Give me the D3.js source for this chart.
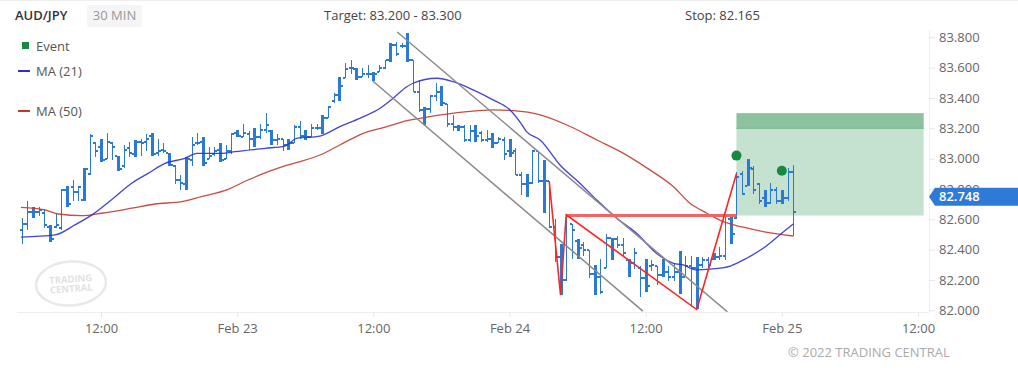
<!DOCTYPE html>
<html>
<head>
<meta charset="utf-8">
<script src="https://cdn.jsdelivr.net/npm/d3@7"></script>
<style>
  body { margin: 0; background: #fff; font-family: "Open Sans", sans-serif; }
</style>
</head>
<body>
<div id="root"></div>
<script>
// 30 min bars, index 0 = Feb 22 00:00
const firstBar = 10;
const opens = [
  82.53, 82.57, 82.65, 82.65, 82.64, 82.55, 82.55, 82.54, 82.79, 82.81,
  82.78, 82.73, 82.90, 83.10, 83.08, 83.00, 83.10, 83.02, 82.95, 83.07,
  83.03, 83.11, 83.11, 83.15, 83.04, 83.06, 83.04, 82.95, 82.86, 82.83,
  82.99, 83.10, 83.11, 83.00, 83.03, 83.06, 83.00, 83.05, 83.17, 83.14,
  83.16, 83.13, 83.14, 83.19, 83.18, 83.12, 83.13, 83.09, 83.10, 83.21,
  83.15, 83.14, 83.20, 83.20, 83.27, 83.38, 83.42, 83.53, 83.60, 83.59,
  83.54, 83.56, 83.56, 83.57, 83.60, 83.65, 83.75, 83.74, 83.74, 83.65,
  83.44, 83.32, 83.33, 83.41, 83.44, 83.36, 83.23, 83.21, 83.21, 83.12,
  83.18, 83.17, 83.12, 83.13, 83.10, 83.12, 83.05, 83.05, 82.89, 82.83,
  82.84, 83.05, 82.85, 82.85, 82.55, 82.35, 82.20, 82.57, 82.46, 82.43,
  82.40, 82.24, 82.22, 82.28, 82.48, 82.47, 82.43, 82.33, 82.31, 82.28,
  82.21, 82.29, 82.29, 82.23, 82.25, 82.22, 82.25, 82.22, 82.29, 82.28,
  82.30, 82.33, 82.34, 82.35, 82.36, 82.60, 82.61, 82.90, 82.82, 82.93,
  82.83, 82.74, 82.71, 82.79, 82.72, 82.74, 82.91
];
const highs = [
  82.61, 82.72, 82.68, 82.68, 82.67, 82.56, 82.64, 82.80, 82.82, 82.86,
  82.82, 82.94, 83.16, 83.11, 83.13, 83.17, 83.11, 83.02, 83.09, 83.11,
  83.12, 83.13, 83.16, 83.17, 83.13, 83.10, 83.04, 82.96, 82.89, 83.01,
  83.14, 83.17, 83.14, 83.08, 83.08, 83.10, 83.09, 83.17, 83.19, 83.23,
  83.18, 83.20, 83.23, 83.30, 83.19, 83.16, 83.13, 83.13, 83.22, 83.25,
  83.19, 83.23, 83.23, 83.29, 83.35, 83.43, 83.54, 83.63, 83.65, 83.60,
  83.60, 83.62, 83.57, 83.62, 83.65, 83.76, 83.77, 83.76, 83.83, 83.65,
  83.51, 83.34, 83.42, 83.50, 83.48, 83.36, 83.29, 83.22, 83.22, 83.22,
  83.22, 83.18, 83.19, 83.17, 83.14, 83.14, 83.13, 83.07, 82.91, 82.90,
  83.06, 83.05, 82.99, 82.85, 82.60, 82.44, 82.63, 82.57, 82.47, 82.45,
  82.40, 82.30, 82.34, 82.50, 82.48, 82.49, 82.48, 82.34, 82.41, 82.29,
  82.34, 82.33, 82.29, 82.34, 82.29, 82.31, 82.39, 82.36, 82.36, 82.35,
  82.35, 82.35, 82.38, 82.42, 82.63, 82.62, 82.91, 82.92, 83.00, 82.95,
  82.84, 82.79, 82.84, 82.81, 82.79, 82.94, 82.96
];
const lows = [
  82.44, 82.53, 82.61, 82.62, 82.54, 82.45, 82.54, 82.53, 82.68, 82.72,
  82.72, 82.72, 82.89, 83.01, 82.98, 83.00, 82.99, 82.92, 82.94, 83.01,
  83.01, 83.02, 83.05, 83.02, 83.02, 83.04, 82.95, 82.83, 82.79, 82.79,
  82.95, 83.09, 82.95, 83.00, 83.02, 82.98, 83.00, 83.03, 83.14, 83.14,
  83.06, 83.08, 83.13, 83.17, 83.09, 83.09, 83.05, 83.06, 83.10, 83.13,
  83.12, 83.14, 83.19, 83.16, 83.27, 83.37, 83.38, 83.53, 83.56, 83.52,
  83.54, 83.53, 83.51, 83.57, 83.59, 83.64, 83.68, 83.73, 83.64, 83.44,
  83.31, 83.22, 83.30, 83.38, 83.35, 83.21, 83.18, 83.18, 83.11, 83.11,
  83.11, 83.11, 83.11, 83.07, 83.10, 82.99, 83.01, 82.89, 82.76, 82.75,
  82.83, 82.84, 82.64, 82.54, 82.32, 82.10, 82.19, 82.34, 82.34, 82.36,
  82.21, 82.10, 82.11, 82.28, 82.33, 82.41, 82.35, 82.22, 82.27, 82.09,
  82.12, 82.26, 82.17, 82.22, 82.19, 82.19, 82.11, 82.22, 82.02, 82.01,
  82.28, 82.27, 82.33, 82.33, 82.33, 82.44, 82.60, 82.76, 82.82, 82.77,
  82.70, 82.68, 82.70, 82.70, 82.70, 82.72, 82.49
];
const closes = [
  82.57, 82.65, 82.65, 82.66, 82.56, 82.47, 82.56, 82.79, 82.70, 82.78,
  82.81, 82.93, 83.15, 83.05, 82.99, 83.11, 83.08, 82.93, 83.06, 83.04,
  83.11, 83.10, 83.13, 83.03, 83.05, 83.05, 82.96, 82.86, 82.84, 83.00,
  83.09, 83.10, 82.97, 83.02, 83.05, 82.99, 83.05, 83.16, 83.15, 83.17,
  83.13, 83.14, 83.19, 83.22, 83.12, 83.13, 83.09, 83.10, 83.21, 83.15,
  83.14, 83.20, 83.20, 83.27, 83.34, 83.42, 83.48, 83.59, 83.60, 83.54,
  83.56, 83.56, 83.56, 83.60, 83.65, 83.75, 83.69, 83.74, 83.65, 83.44,
  83.32, 83.33, 83.41, 83.44, 83.37, 83.23, 83.21, 83.21, 83.12, 83.18,
  83.15, 83.12, 83.13, 83.10, 83.13, 83.03, 83.04, 82.89, 82.83, 82.84,
  83.05, 82.85, 82.85, 82.55, 82.35, 82.20, 82.62, 82.53, 82.41, 82.40,
  82.24, 82.22, 82.12, 82.48, 82.47, 82.43, 82.38, 82.31, 82.38, 82.21,
  82.16, 82.30, 82.23, 82.25, 82.22, 82.25, 82.22, 82.29, 82.28, 82.30,
  82.33, 82.30, 82.35, 82.36, 82.63, 82.50, 82.88, 82.77, 82.94, 82.79,
  82.72, 82.71, 82.79, 82.72, 82.74, 82.91, 82.65
];

// Moving averages: [bar index, price]
const ma21 = [
  [9.9, 82.482], [15.9, 82.497], [19.4, 82.563], [22.4, 82.629], [26.5, 82.749],
  [29.4, 82.838], [32.3, 82.903], [35.3, 82.969], [38.8, 83.002], [40.9, 83.035],
  [45.3, 83.035], [47.6, 83.046], [52.9, 83.068], [56.4, 83.083], [58.5, 83.134],
  [62.6, 83.149], [66.1, 83.211], [69.6, 83.266], [73.2, 83.332], [75.5, 83.398],
  [77.9, 83.474], [79.0, 83.497], [83.2, 83.530], [86.1, 83.507], [89.6, 83.453],
  [93.1, 83.387], [96.1, 83.321], [97.8, 83.244], [99.0, 83.178], [101.4, 83.123],
  [104.9, 82.958], [108.4, 82.838], [111.4, 82.727], [114.9, 82.607], [118.4, 82.508],
  [121.9, 82.376], [124.9, 82.310], [126.6, 82.299], [129.0, 82.266], [131.3, 82.271],
  [134.9, 82.292], [137.8, 82.343], [140.7, 82.409], [144.3, 82.518], [146.0, 82.569]
];
const ma50 = [
  [9.9, 82.679], [14.1, 82.662], [16.5, 82.635], [20.6, 82.624], [24.1, 82.640],
  [29.4, 82.673], [33.5, 82.701], [38.2, 82.716], [41.7, 82.749], [46.4, 82.798],
  [49.9, 82.859], [53.5, 82.914], [56.4, 82.952], [59.1, 82.980], [62.6, 83.024],
  [66.1, 83.090], [70.2, 83.167], [74.4, 83.211], [77.9, 83.250], [80.2, 83.266],
  [84.9, 83.294], [88.5, 83.310], [93.1, 83.321], [96.7, 83.316], [101.4, 83.288],
  [106.5, 83.215], [111.4, 83.123], [116.1, 83.035], [120.8, 82.924], [124.9, 82.815],
  [127.8, 82.706], [130.8, 82.640], [133.7, 82.584], [137.2, 82.548], [140.7, 82.519],
  [146.0, 82.490]
];

// Pattern drawings
const channelUpper = [[76.2, 83.835], [134.4, 81.99]];
const channelLower = [[71.9, 83.512], [119.5, 81.995]];
const zigzag = [[103, 82.85], [105, 82.10], [106, 82.63], [129, 82.005], [136, 82.90]];
const neckline = [[106, 82.625], [136, 82.625]];
const events = [[136, 83.02], [144, 82.92]];
const zoneStart = 136, zoneEnd = 169;
const entryLevel = 82.625, targetLow = 83.2, targetHigh = 83.3;
const lastPrice = 82.748;

// Axis ticks
const xTickIdx = [24, 48, 72, 96, 120, 144, 168];
const xTickLabels = ["12:00", "Feb 23", "12:00", "Feb 24", "12:00", "Feb 25", "12:00"];
const yTicks = [82.0, 82.2, 82.4, 82.6, 82.8, 83.0, 83.2, 83.4, 83.6, 83.8];

const width = 1018, height = 370;
const plot = { left: 17, right: 929, top: 30, bottom: 312 };

const svg = d3.select("#root").append("svg")
  .attr("width", width).attr("height", height)
  .style("font-family", '"Open Sans", sans-serif');

const x = d3.scaleLinear().domain([24, 168]).range([101, 918]);
const y = d3.scaleLinear().domain([82.0, 83.8]).range([310.3, 37.3]);

// top border
svg.append("line").attr("x1", 0).attr("x2", width).attr("y1", 0.5).attr("y2", 0.5)
  .attr("stroke", "#eeeeee");

// header
svg.append("text").attr("x", 15).attr("y", 20).attr("font-size", 13)
  .attr("font-weight", 600).attr("fill", "#333").text("AUD/JPY");
svg.append("rect").attr("x", 87).attr("y", 5).attr("width", 55).attr("height", 22)
  .attr("rx", 3).attr("fill", "#f5f5f5");
svg.append("text").attr("x", 114.5).attr("y", 20).attr("font-size", 13)
  .attr("text-anchor", "middle").attr("fill", "#999").text("30 MIN");
svg.append("text").attr("x", 324).attr("y", 20).attr("font-size", 13)
  .attr("fill", "#444").text("Target: 83.200 - 83.300");
svg.append("text").attr("x", 685).attr("y", 20).attr("font-size", 13)
  .attr("fill", "#444").text("Stop: 82.165");

// legend
svg.append("rect").attr("x", 22).attr("y", 42).attr("width", 7).attr("height", 7)
  .attr("fill", "#178a40");
svg.append("text").attr("x", 36).attr("y", 50.5).attr("font-size", 13)
  .attr("fill", "#555").text("Event");
svg.append("line").attr("x1", 18).attr("x2", 30).attr("y1", 71).attr("y2", 71)
  .attr("stroke", "#2f2fd0").attr("stroke-width", 2);
svg.append("text").attr("x", 36).attr("y", 75.5).attr("font-size", 13)
  .attr("fill", "#555").text("MA (21)");
svg.append("line").attr("x1", 18).attr("x2", 30).attr("y1", 111).attr("y2", 111)
  .attr("stroke", "#c23a2c").attr("stroke-width", 2);
svg.append("text").attr("x", 36).attr("y", 115.5).attr("font-size", 13)
  .attr("fill", "#555").text("MA (50)");

// watermark logo
const logo = svg.append("g").attr("transform", "translate(71,283.5) rotate(-4)");
logo.append("ellipse").attr("rx", 35).attr("ry", 22).attr("fill", "none")
  .attr("stroke", "#e8e8e8").attr("stroke-width", 2.5);
logo.append("text").attr("y", -1).attr("text-anchor", "middle").attr("font-size", 9.5)
  .attr("font-weight", 700).attr("fill", "#e2e2e2").text("TRADING");
logo.append("text").attr("y", 8.5).attr("text-anchor", "middle").attr("font-size", 9.5)
  .attr("font-weight", 700).attr("fill", "#e2e2e2").text("CENTRAL");

// axes frame
svg.append("line").attr("x1", plot.left).attr("x2", plot.right)
  .attr("y1", plot.bottom + 0.5).attr("y2", plot.bottom + 0.5).attr("stroke", "#eeeeee");
svg.append("line").attr("x1", plot.right + 0.5).attr("x2", plot.right + 0.5)
  .attr("y1", plot.top).attr("y2", plot.bottom).attr("stroke", "#f0f0f0");

const xAxis = svg.append("g").attr("transform", `translate(0,${plot.bottom})`)
  .call(d3.axisBottom(x).tickValues(xTickIdx)
    .tickFormat((d, i) => xTickLabels[i]).tickSize(5).tickPadding(6.5).tickSizeOuter(0));
xAxis.select(".domain").remove();
xAxis.selectAll(".tick line").attr("stroke", "#e6e6e6");
xAxis.selectAll(".tick text").attr("fill", "#666").attr("font-size", 13)
  .style("font-family", '"Open Sans", sans-serif');

const yAxis = svg.append("g").attr("transform", `translate(${plot.right},0)`)
  .call(d3.axisRight(y).tickValues(yTicks).tickFormat(d3.format(".3f"))
    .tickSize(6).tickPadding(4).tickSizeOuter(0));
yAxis.select(".domain").remove();
yAxis.selectAll(".tick line").attr("stroke", "#e6e6e6");
yAxis.selectAll(".tick text").attr("fill", "#666").attr("font-size", 13)
  .style("font-family", '"Open Sans", sans-serif');

// plot clip
svg.append("clipPath").attr("id", "plotClip").append("rect")
  .attr("x", plot.left).attr("y", plot.top)
  .attr("width", plot.right - plot.left).attr("height", plot.bottom - plot.top);
const chart = svg.append("g").attr("clip-path", "url(#plotClip)");

// target zone
chart.append("rect").attr("x", x(zoneStart)).attr("y", y(targetLow))
  .attr("width", x(zoneEnd) - x(zoneStart)).attr("height", y(entryLevel) - y(targetLow))
  .attr("fill", "#c5e1cf");
chart.append("rect").attr("x", x(zoneStart)).attr("y", y(targetHigh))
  .attr("width", x(zoneEnd) - x(zoneStart)).attr("height", y(targetLow) - y(targetHigh))
  .attr("fill", "#8cc39e");
chart.append("line").attr("x1", x(zoneStart)).attr("x2", x(zoneEnd))
  .attr("y1", y(targetLow)).attr("y2", y(targetLow))
  .attr("stroke", "#6fb487").attr("stroke-width", 1);

// OHLC bars
const bars = opens.map((o, k) => ({
  i: firstBar + k, o, h: highs[k], l: lows[k], c: closes[k]
}));
const barColor = "#2a79d4";
const barG = chart.append("g").attr("shape-rendering", "crispEdges");
bars.forEach((d) => {
  const cx = Math.round(x(d.i));
  const w = d.i % 3 === 0 ? 3 : 1;
  const x0 = w === 3 ? cx - 1 : cx;
  barG.append("rect").attr("x", x0).attr("y", y(d.h))
    .attr("width", w).attr("height", Math.max(1, y(d.l) - y(d.h)))
    .attr("fill", barColor);
  barG.append("rect").attr("x", x0 - 2).attr("y", y(d.o) - 1)
    .attr("width", 2).attr("height", 2).attr("fill", barColor);
  barG.append("rect").attr("x", x0 + w).attr("y", y(d.c) - 1)
    .attr("width", 2).attr("height", 2).attr("fill", barColor);
});

// moving averages
const line = d3.line().x((d) => x(d[0])).y((d) => y(d[1])).curve(d3.curveMonotoneX);
chart.append("path").datum(ma50).attr("d", line).attr("fill", "none")
  .attr("stroke", "#c23a2c").attr("stroke-width", 1.3).attr("stroke-opacity", 0.9);
chart.append("path").datum(ma21).attr("d", line).attr("fill", "none")
  .attr("stroke", "#2f2fd0").attr("stroke-width", 1.3).attr("stroke-opacity", 0.9);

// channel
const straight = d3.line().x((d) => x(d[0])).y((d) => y(d[1]));
[channelUpper, channelLower].forEach((c) => {
  chart.append("path").datum(c).attr("d", straight).attr("fill", "none")
    .attr("stroke", "#8a8a8a").attr("stroke-width", 1.5);
});

// pattern lines
chart.append("path").datum(neckline).attr("d", straight).attr("fill", "none")
  .attr("stroke", "#f26464").attr("stroke-width", 3);
chart.append("path").datum(zigzag).attr("d", straight).attr("fill", "none")
  .attr("stroke", "#ff2424").attr("stroke-width", 1.6);

// events
chart.selectAll(".event").data(events).enter().append("circle")
  .attr("class", "event").attr("cx", (d) => x(d[0])).attr("cy", (d) => y(d[1]))
  .attr("r", 5).attr("fill", "#178a40");

// last price tag
const ty = y(lastPrice);
svg.append("path")
  .attr("d", `M${plot.right},${ty} L${plot.right + 6},${ty - 9} L${width},${ty - 9} L${width},${ty + 9} L${plot.right + 6},${ty + 9} Z`)
  .attr("fill", "#2d7bd6");
svg.append("text").attr("x", 939).attr("y", ty + 4.5).attr("font-size", 13)
  .attr("font-weight", 600).attr("fill", "#fff").text(lastPrice.toFixed(3));

// copyright
svg.append("text").attr("x", 788).attr("y", 357).attr("font-size", 13)
  .attr("fill", "#aaa").text("© 2022 TRADING CENTRAL");
</script>
</body>
</html>
